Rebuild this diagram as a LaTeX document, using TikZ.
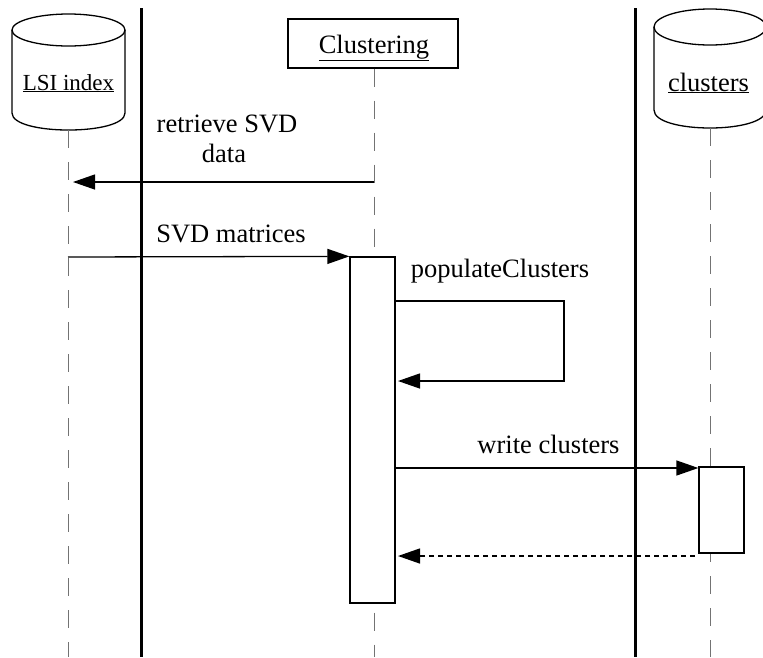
\documentclass[tikz,border=0pt]{standalone}
\usepackage{fontspec}
\setmainfont{Liberation Serif}
\usetikzlibrary{arrows.meta}
\begin{document}
\begin{tikzpicture}[x=1pt,y=-1pt,
  txt/.style={font=\fontsize{26.5}{30}\selectfont, inner sep=0pt, anchor=base},
  lifeline/.style={draw=black!55, line width=0.9pt, dash pattern=on 18pt off 14pt},
  divider/.style={line width=3pt},
  objbox/.style={draw, line width=1.3pt, fill=white, minimum width=170pt, minimum height=49pt, inner sep=0pt},
  actbox/.style={draw, line width=1.3pt, fill=white, minimum width=45pt, inner sep=0pt},
  store/.style={line width=1.3pt, fill=white},
  msg/.style={line width=1.3pt, -{Triangle[length=22pt,width=15pt]}},
  reply/.style={msg, dash pattern=on 5pt off 4pt}]
\useasboundingbox (0,0) rectangle (763,657);
\clip (0,0) rectangle (763,657);

% swimlane dividers
\draw[divider] (141,8) -- (141,657);
\draw[divider] (635,8) -- (635,657);

% data store: LSI index
\draw[store] (12,30) -- (12,113) .. controls (12,135.7) and (125,135.7) .. (125,113) -- (125,30);
\draw[store] (68.5,30) ellipse [x radius=56.5, y radius=16];
\node[txt, font=\fontsize{23}{27}\selectfont] (lsiname) at (68.5,90) {\underline{LSI index}};
\coordinate (lsiTop) at (68,130);
\coordinate (lsiBot) at (68,657);

% data store: clusters
\draw[store] (654,27) -- (654,110) .. controls (654,134) and (766,134) .. (766,110) -- (766,27);
\draw[store] (710,27) ellipse [x radius=56, y radius=18];
\node[txt] (clsname) at (708.5,91) {\underline{clusters}};
\coordinate (clsTop) at (710,128);
\coordinate (clsBot) at (710,657);

% object: Clustering
\node[objbox] (clu) at (373,43.5) {};
\node[txt] (cluname) at (374,53) {\underline{Clustering}};
\coordinate (cluBot) at (374,657);

% lifelines
\draw[lifeline] (lsiTop) -- (lsiBot);
\draw[lifeline] (clu.south -| cluBot) -- (cluBot);
\draw[lifeline] (clsTop) -- (clsBot);

% activations
\node[actbox, minimum height=346pt] (act1) at (372.5,430) {};
\node[actbox, minimum height=86pt] (act2) at (721.5,510) {};

% message end points
\coordinate (m1a) at (374,182);
\coordinate (m1b) at (73,182);
\coordinate (m2a) at (68,257);
\coordinate (m3a) at (395,301);
\coordinate (m3b) at (564,301);
\coordinate (m3c) at (564,381);
\coordinate (m3d) at (398,381);
\coordinate (m4a) at (396,468);
\coordinate (m5a) at (695,556);
\coordinate (m5b) at (398,556);

% messages
\draw[msg] (m1a) -- (m1b);
\draw[msg] (m2a) -- (act1.north west);
\draw[msg] (m3a) -- (m3b) -- (m3c) -- (m3d);
\draw[msg] (m4a) -- (m4a -| act2.west);
\draw[reply] (m5a) -- (m5b);

% message labels
\node[txt] (l1a) at (227,132) {retrieve SVD};
\node[txt] (l1b) at (224,162) {data};
\node[txt] (l2) at (231,242) {SVD matrices};
\node[txt] (l3) at (500,277) {populateClusters};
\node[txt] (l4) at (548.5,453) {write clusters};
\end{tikzpicture}
\end{document}
